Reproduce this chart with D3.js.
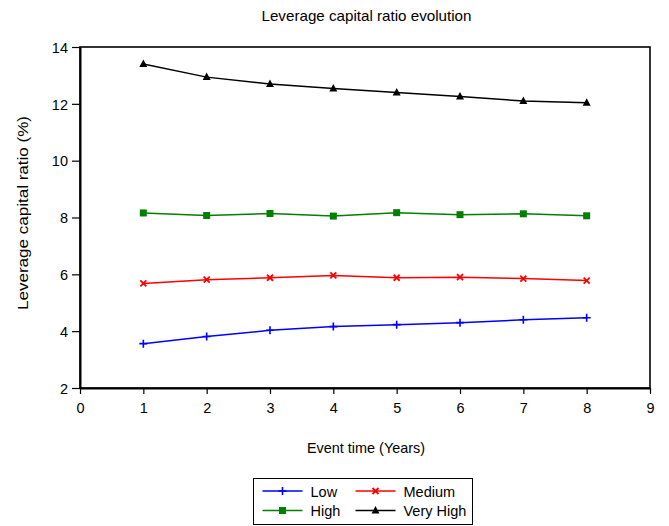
<!DOCTYPE html>
<html>
<head>
<meta charset="utf-8">
<script src="https://cdn.jsdelivr.net/npm/d3@7"></script>
<style>
  body { margin: 0; background: #fff; }
  text { font-family: "Liberation Sans", Arial, sans-serif; fill: #000; }
</style>
</head>
<body>
<div id="viz"></div>
<script>
// data
var years = [1, 2, 3, 4, 5, 6, 7, 8];
var low = [3.56, 3.81, 4.03, 4.16, 4.23, 4.30, 4.40, 4.47];
var medium = [5.68, 5.81, 5.88, 5.96, 5.88, 5.90, 5.85, 5.78];
var high = [8.16, 8.07, 8.14, 8.05, 8.17, 8.10, 8.13, 8.06];
var veryHigh = [13.40, 12.94, 12.70, 12.54, 12.40, 12.26, 12.10, 12.04];
var xTicks = [0, 1, 2, 3, 4, 5, 6, 7, 8, 9];
var yTicks = [2, 4, 6, 8, 10, 12, 14];

var series = [
  {name: "Low", values: low, color: "#0000ff", marker: "plus"},
  {name: "Medium", values: medium, color: "#ff0000", marker: "cross"},
  {name: "High", values: high, color: "#008000", marker: "square"},
  {name: "Very High", values: veryHigh, color: "#000000", marker: "triangle"}
];

var W = 669, H = 526;
const margin = {top: 47, right: 19, bottom: 138, left: 80},
  width = W - margin.left - margin.right,
  height = H - margin.top - margin.bottom;

const svg = d3.select("#viz")
  .append("svg")
    .attr("width", W)
    .attr("height", H);

const g = svg.append("g")
    .attr("transform", `translate(${margin.left},${margin.top})`);

const x = d3.scaleLinear().domain([0, 9]).range([0, width]);
const y = d3.scaleLinear().domain([2, 14]).range([height, 0]);

// title
svg.append("text")
  .attr("x", 366.5).attr("y", 21)
  .attr("text-anchor", "middle")
  .attr("textLength", 210).attr("lengthAdjust", "spacingAndGlyphs")
  .style("font-size", "15px")
  .text("Leverage capital ratio evolution");

// frame
g.append("rect")
  .attr("width", width).attr("height", height)
  .attr("fill", "none").attr("stroke", "#000").attr("stroke-width", 1.6);

// axes
const xAxis = g.append("g")
  .attr("transform", `translate(0,${height})`)
  .call(d3.axisBottom(x).tickValues(xTicks).tickSize(6).tickSizeOuter(0).tickFormat(d3.format("d")));
const yAxis = g.append("g")
  .call(d3.axisLeft(y).tickValues(yTicks).tickSize(8).tickSizeOuter(0).tickFormat(d3.format("d")));

[xAxis, yAxis].forEach(a => {
  a.select(".domain").attr("stroke", "#000").attr("stroke-width", 2);
  a.selectAll(".tick line").attr("stroke", "#000").attr("stroke-width", 1.2);
  a.selectAll(".tick text")
    .style("font-family", '"Liberation Sans", Arial, sans-serif')
    .style("font-size", "14.5px").attr("fill", "#000");
});
xAxis.selectAll(".tick text").attr("y", 25).attr("dy", 0);
yAxis.selectAll(".tick text").attr("x", -12).attr("dy", "0.36em");

// axis titles
svg.append("text")
  .attr("x", 366).attr("y", 453)
  .attr("text-anchor", "middle")
  .attr("textLength", 118).attr("lengthAdjust", "spacingAndGlyphs")
  .style("font-size", "14.5px")
  .text("Event time (Years)");

svg.append("text")
  .attr("transform", "translate(28,213) rotate(-90)")
  .attr("text-anchor", "middle")
  .attr("textLength", 194).attr("lengthAdjust", "spacingAndGlyphs")
  .style("font-size", "15px")
  .text("Leverage capital ratio (%)");

function drawMarker(sel, type, color) {
  if (type === "plus") {
    sel.append("path").attr("d", "M-4,0H4M0,-4V4")
      .attr("stroke", color).attr("stroke-width", 1.6).attr("fill", "none");
  } else if (type === "cross") {
    sel.append("path").attr("d", "M-3,-3L3,3M-3,3L3,-3")
      .attr("stroke", color).attr("stroke-width", 1.8).attr("fill", "none");
  } else if (type === "square") {
    sel.append("rect").attr("x", -3.5).attr("y", -3.5).attr("width", 7).attr("height", 7)
      .attr("fill", color);
  } else {
    sel.append("path").attr("d", "M0,-4.5L4,3L-4,3Z").attr("fill", color);
  }
}

const line = d3.line()
  .x(function(d, i) { return x(years[i]); })
  .y(function(d) { return y(d); });

series.forEach(s => {
  g.append("path")
    .datum(s.values)
    .attr("fill", "none")
    .attr("stroke", s.color)
    .attr("stroke-width", 1.5)
    .attr("d", line);
  s.values.forEach((v, i) => {
    const m = g.append("g").attr("transform", `translate(${x(years[i])},${y(v)})`);
    drawMarker(m, s.marker, s.color);
  });
});

// legend
const lg = svg.append("g").attr("transform", "translate(253.5,478.5)");
lg.append("rect").attr("width", 219).attr("height", 46)
  .attr("fill", "#fff").attr("stroke", "#000").attr("stroke-width", 1);
series.forEach((s, i) => {
  const col = i % 2, row = Math.floor(i / 2);
  const ox = 9 + col * 93, oy = 12.5 + row * 19.5;
  const it = lg.append("g").attr("transform", `translate(${ox},${oy})`);
  it.append("line").attr("x1", 0).attr("x2", 40).attr("y1", 0).attr("y2", 0)
    .attr("stroke", s.color).attr("stroke-width", 1.5);
  drawMarker(it.append("g").attr("transform", "translate(20,0)"), s.marker, s.color);
  it.append("text").attr("x", 48).attr("y", 5.5)
    .style("font-size", "14.5px")
    .text(s.name);
});
</script>
</body>
</html>
